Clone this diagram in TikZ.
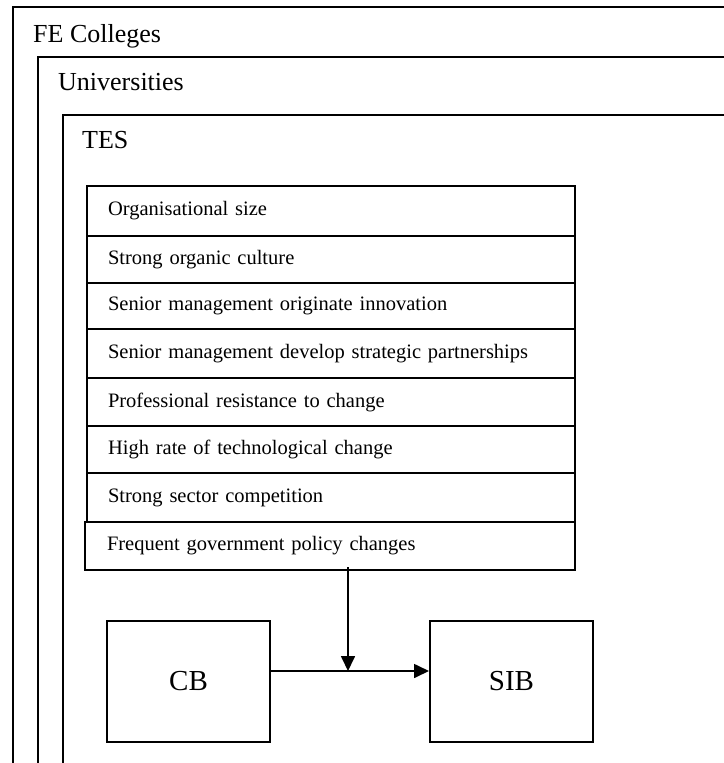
\documentclass[tikz,border=0pt]{standalone}
\usepackage{fontspec}
\setmainfont{Liberation Serif}
\usetikzlibrary{arrows.meta}
\begin{document}
\begin{tikzpicture}[x=1pt,y=-1pt,
  frame/.style={line width=2.4pt},
  title/.style={anchor=base west,inner sep=0pt,font=\fontsize{26}{30}\selectfont},
  rowbox/.style={draw,line width=2pt,anchor=north west,minimum width=488pt,
    text width=446pt,inner xsep=21pt,inner ysep=0pt,align=left,
    font=\fontsize{20.5}{24}\selectfont},
  blockbox/.style={draw,line width=2pt,minimum width=163pt,minimum height=121pt,
    inner sep=0pt,font=\fontsize{29}{34}\selectfont},
  link/.style={line width=1.7pt,-{Triangle[length=15pt,width=14pt]}}]
\useasboundingbox (0,0) rectangle (723,763);
% nested contexts, open to the right and bottom
\draw[frame] (13,763) -- (13,7) -- (724,7);
\draw[frame] (38,763) -- (38,57) -- (724,57);
\draw[frame] (63,763) -- (63,115) -- (724,115);
\node[title] (fe)  at (33,42)  {FE Colleges};
\node[title] (uni) at (58,90)  {Universities};
\node[title] (tes) at (82,148) {TES};
% list of factors
\node[rowbox,minimum height=50pt] (r1) at (86,185) {Organisational size};
\node[rowbox,minimum height=47pt] (r2) at (86,235) {Strong organic culture};
\node[rowbox,minimum height=46pt] (r3) at (86,282) {Senior management originate innovation};
\node[rowbox,minimum height=49pt] (r4) at (86,328) {Senior management develop strategic partnerships};
\node[rowbox,minimum height=48pt] (r5) at (86,377) {Professional resistance to change};
\node[rowbox,minimum height=47pt] (r6) at (86,425) {High rate of technological change};
\node[rowbox,minimum height=49pt] (r7) at (86,472) {Strong sector competition};
\node[rowbox,minimum height=48pt,minimum width=490pt] (r8) at (84,521) {Frequent government policy changes};
% behaviour blocks
\node[blockbox] (cb)  at (188.5,681.5) {CB};
\node[blockbox] (sib) at (511.5,681.5) {SIB};
\coordinate (j) at (348,671);
\draw[link] (cb.east |- j) -- (sib.west |- j);
\draw[link] ([yshift=4pt]r8.south -| j) -- (j);
\end{tikzpicture}
\end{document}
